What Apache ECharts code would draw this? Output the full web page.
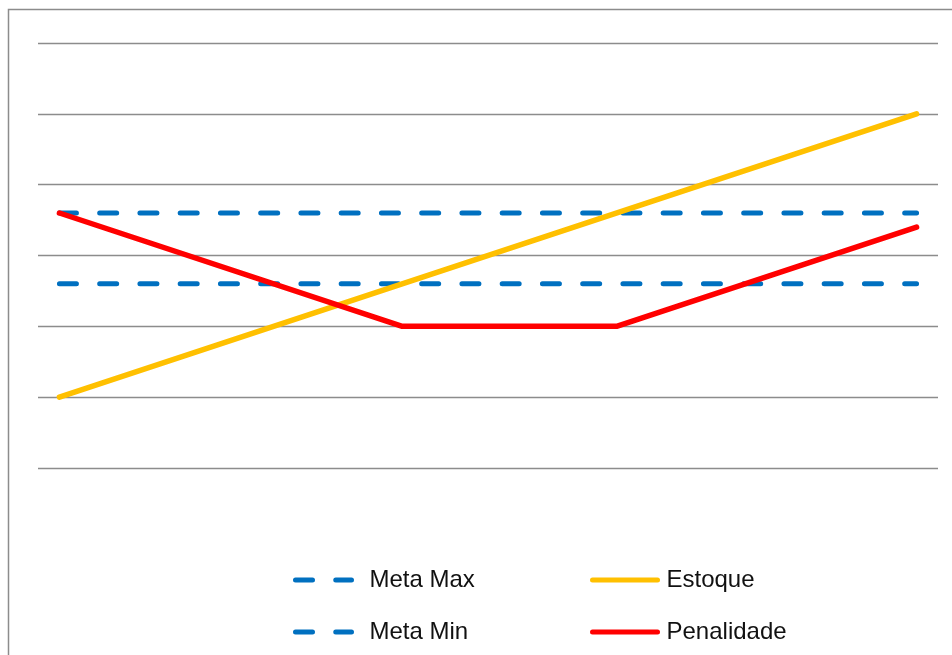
<!DOCTYPE html>
<html>
<head>
<meta charset="utf-8">
<script src="https://cdn.jsdelivr.net/npm/echarts@6/dist/echarts.min.js"></script>
<style>
html,body{margin:0;padding:0;background:#fff;}
#chart{width:952px;height:655px;}
</style>
</head>
<body>
<div id="chart"></div>
<script>
// categories (periods), 21 points
var categories = ['1','2','3','4','5','6','7','8','9','10','11','12','13','14','15','16','17','18','19','20','21'];
// series values (null = no point; line connected between known points)
var metaMax    = [3.6, null, null, null, null, null, null, null, null, null, null, null, null, null, null, null, null, null, null, null, 3.6];
var metaMin    = [2.6, null, null, null, null, null, null, null, null, null, null, null, null, null, null, null, null, null, null, null, 2.6];
var estoque    = [1.0, null, null, null, null, null, null, null, null, null, null, null, null, null, null, null, null, null, null, null, 5.0];
var penalidade = [3.6, null, null, null, null, null, null, null, 2.0, null, null, null, null, 2.0, null, null, null, null, null, null, 3.4];
var yMin = 0, yMax = 6, yStep = 1;

var chart = echarts.init(document.getElementById('chart'), null, {renderer: 'canvas'});
var dash = [17, 23.25];
var font = 'Liberation Sans, Arial, sans-serif';
var legendCommon = {
  orient: 'vertical',
  top: 568,
  itemHeight: 24, itemGap: 28,
  padding: 0,
  itemStyle: {opacity: 0, borderWidth: 0},
  lineStyle: {width: 5, cap: 'round', type: 'inherit', opacity: 1}
};
chart.setOption({
  animation: false,
  backgroundColor: '#ffffff',
  graphic: [{
    type: 'rect',
    shape: {x: 8.5, y: 9.5, width: 1000, height: 700},
    style: {fill: 'none', stroke: '#8c8c8c', lineWidth: 1.5},
    silent: true
  }],
  grid: {left: 38, right: 14, top: 43, height: 425, containLabel: false},
  xAxis: {
    type: 'category',
    data: categories,
    boundaryGap: true,
    axisLine: {show: false},
    axisTick: {show: false},
    axisLabel: {show: false},
    splitLine: {show: false}
  },
  yAxis: {
    type: 'value',
    min: yMin, max: yMax, interval: yStep,
    axisLine: {show: false},
    axisTick: {show: false},
    axisLabel: {show: false},
    splitLine: {show: true, lineStyle: {color: '#8c8c8c', width: 1.3}}
  },
  legend: [Object.assign({}, legendCommon, {
    data: ['Meta Max', 'Meta Min'],
    left: 293,
    itemWidth: 56,
    textStyle: {fontFamily: font, fontSize: 24, color: '#111', lineHeight: 24, padding: [0, 0, 0, 13]}
  }), Object.assign({}, legendCommon, {
    data: ['Estoque', 'Penalidade'],
    left: 590,
    itemWidth: 65,
    textStyle: {fontFamily: font, fontSize: 24, color: '#111', lineHeight: 24, padding: [0, 0, 0, 4]}
  })],
  series: [{
    name: 'Meta Max', type: 'line', data: metaMax, connectNulls: true, symbol: 'none',
    itemStyle: {color: '#0070C0'},
    lineStyle: {color: '#0070C0', width: 5, type: dash, cap: 'round'}
  }, {
    name: 'Meta Min', type: 'line', data: metaMin, connectNulls: true, symbol: 'none',
    itemStyle: {color: '#0070C0'},
    lineStyle: {color: '#0070C0', width: 5, type: dash, cap: 'round'}
  }, {
    name: 'Estoque', type: 'line', data: estoque, connectNulls: true, symbol: 'none',
    itemStyle: {color: '#FFC000'},
    lineStyle: {color: '#FFC000', width: 5.5, cap: 'round', join: 'round'}
  }, {
    name: 'Penalidade', type: 'line', data: penalidade, connectNulls: true, symbol: 'none',
    itemStyle: {color: '#FF0000'},
    lineStyle: {color: '#FF0000', width: 5.5, cap: 'round', join: 'round'}
  }]
});
</script>
</body>
</html>
